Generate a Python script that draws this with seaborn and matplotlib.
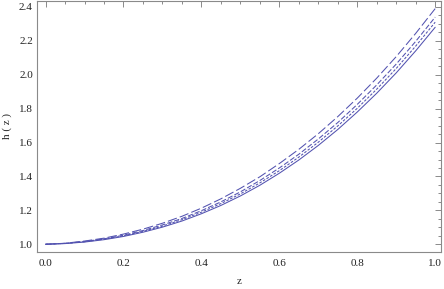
import matplotlib
matplotlib.use("Agg")
import matplotlib.pyplot as plt
from matplotlib.ticker import MultipleLocator
import seaborn as sns

Z = [0.00, 0.05, 0.10, 0.15, 0.20, 0.25, 0.30, 0.35, 0.40, 0.45, 0.50,
     0.55, 0.60, 0.65, 0.70, 0.75, 0.80, 0.85, 0.90, 0.95, 1.00]

H_SOLID = [1.000, 1.004, 1.013, 1.027, 1.046, 1.071, 1.101, 1.137, 1.180, 1.229, 1.285,
           1.348, 1.419, 1.497, 1.583, 1.677, 1.780, 1.891, 2.011, 2.141, 2.280]
H_DASH_A = [1.000, 1.005, 1.015, 1.030, 1.050, 1.076, 1.107, 1.145, 1.189, 1.240, 1.297,
            1.362, 1.434, 1.514, 1.602, 1.698, 1.802, 1.915, 2.037, 2.169, 2.310]
H_DASH_B = [1.000, 1.005, 1.016, 1.032, 1.053, 1.081, 1.114, 1.152, 1.198, 1.250, 1.309,
            1.376, 1.450, 1.531, 1.621, 1.718, 1.825, 1.940, 2.063, 2.197, 2.340]
H_DASH_C = [1.000, 1.006, 1.019, 1.036, 1.060, 1.089, 1.124, 1.165, 1.213, 1.268, 1.330,
            1.398, 1.476, 1.560, 1.652, 1.753, 1.862, 1.980, 2.107, 2.244, 2.390]

LINE_COLOR = "#5252b0"
FRAME_COLOR = "#8a8a8a"

sns.set_style("white")
plt.rcParams["font.family"] = ["Liberation Serif", "DejaVu Serif"]

fig = plt.figure(figsize=(4.44, 2.89), dpi=100)
ax = fig.add_axes([0.0833, 0.129, 0.910, 0.8675])

series = [
    (H_SOLID, None),
    (H_DASH_A, (2.5, 1.5)),
    (H_DASH_B, (5, 2)),
    (H_DASH_C, (9, 3)),
]
for values, dash in series:
    sns.lineplot(x=Z, y=values, ax=ax, color=LINE_COLOR, linewidth=0.75)
    if dash is not None:
        ax.lines[-1].set_dashes(dash)

ax.set_xlim(-0.022, 1.015)
ax.set_ylim(0.956, 2.435)

ax.xaxis.set_major_locator(MultipleLocator(0.2))
ax.xaxis.set_minor_locator(MultipleLocator(0.05))
ax.yaxis.set_major_locator(MultipleLocator(0.2))
ax.yaxis.set_minor_locator(MultipleLocator(0.05))
ax.xaxis.set_major_formatter(plt.FuncFormatter(lambda v, p: f"{v:.1f}"))
ax.yaxis.set_major_formatter(plt.FuncFormatter(lambda v, p: f"{v:.1f}"))

ax.tick_params(which="both", direction="in", top=True, right=True,
               color=FRAME_COLOR, width=0.7, labelsize=8, labelcolor="#222222")
ax.tick_params(which="major", length=4.5)
ax.tick_params(which="minor", length=2.5)
ax.tick_params(axis="x", pad=5)
ax.tick_params(axis="y", pad=3)

for spine in ax.spines.values():
    spine.set_visible(True)
    spine.set_color(FRAME_COLOR)
    spine.set_linewidth(0.8)

ax.set_xlabel("z", fontsize=8, color="#222222", labelpad=7)
ax.set_ylabel("h ( z )", fontsize=8, color="#222222", labelpad=5)

fig.savefig("out.png", dpi=100)
